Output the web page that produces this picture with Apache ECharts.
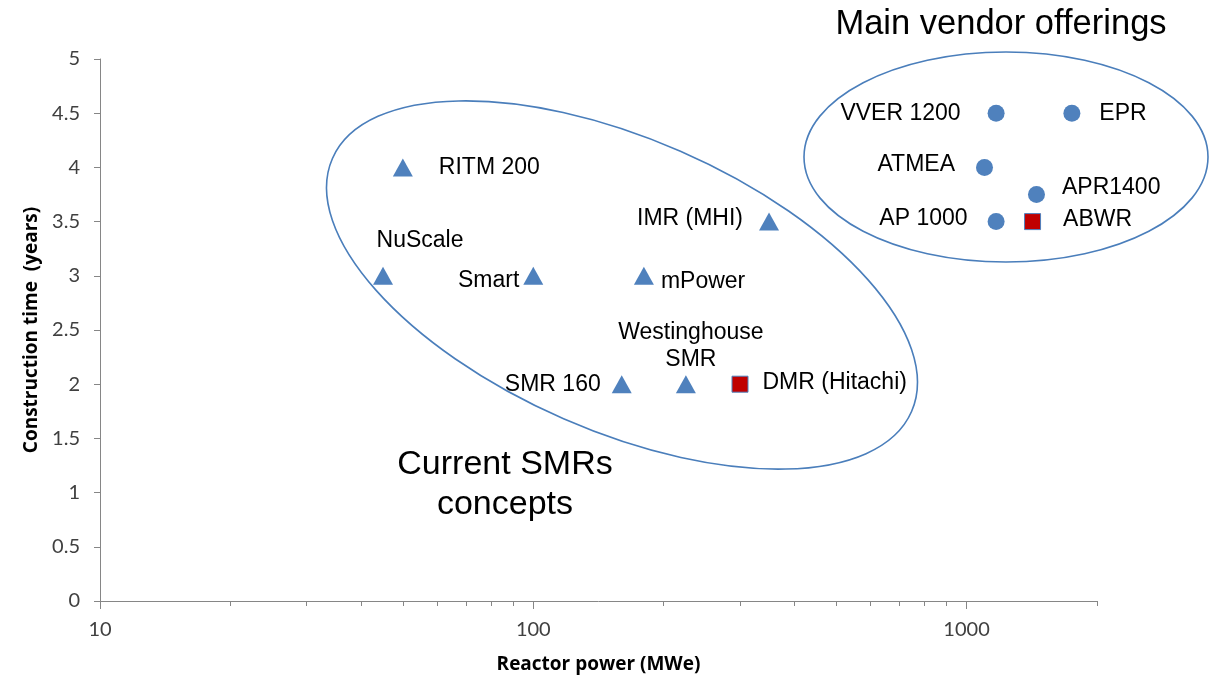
<!DOCTYPE html>
<html>
<head>
<meta charset="utf-8">
<script src="https://cdn.jsdelivr.net/npm/echarts@6/dist/echarts.min.js"></script>
<style>
  html, body { margin: 0; padding: 0; background: #fff; }
  #chart { width: 1209px; height: 681px; }
</style>
</head>
<body>
<div id="chart"></div>
<script>
// SMR concepts (triangles)
const smrNames = ['RITM 200', 'NuScale', 'Smart', 'mPower', 'IMR (MHI)', 'SMR 160', 'Westinghouse\nSMR']
const smrPower = [50, 45, 100, 180, 350, 160, 225]
const smrTime = [4, 3, 3, 3, 3.5, 2, 2]

// large PWR vendor offerings (circles)
const vendorNames = ['VVER 1200', 'EPR', 'ATMEA', 'APR1400', 'AP 1000']
const vendorPower = [1170, 1750, 1100, 1450, 1170]
const vendorTime = [4.5, 4.5, 4, 3.75, 3.5]

// BWR designs (red squares)
const bwrNames = ['DMR (Hitachi)', 'ABWR']
const bwrPower = [300, 1420]
const bwrTime = [2, 3.5]

// axis ticks
const majorTicks = [10, 100, 1000]
const minorTicks = [20, 30, 40, 50, 60, 70, 80, 90, 200, 300, 400, 500, 600, 700, 800, 900, 2000]

// label placement per point
const labelCfg = {
  'RITM 200': { position: 'right', distance: 26 },
  'NuScale': { position: 'top', distance: 13, offset: [37, 0] },
  'Smart': { position: 'left', distance: 4, offset: [0, 5] },
  'mPower': { position: 'right', distance: 7, offset: [0, 6] },
  'IMR (MHI)': { position: 'left', distance: 16, offset: [0, -3] },
  'SMR 160': { position: 'left', distance: 11 },
  'Westinghouse\nSMR': { position: 'top', distance: 2, offset: [5, 0] },
  'DMR (Hitachi)': { position: 'right', distance: 14, offset: [0, -2] },
  'VVER 1200': { position: 'left', distance: 27 },
  'EPR': { position: 'right', distance: 19 },
  'ATMEA': { position: 'left', distance: 21, offset: [0, -3] },
  'APR1400': { position: 'right', distance: 17, offset: [0, -7] },
  'AP 1000': { position: 'left', distance: 20, offset: [0, -3] },
  'ABWR': { position: 'right', distance: 22, offset: [0, -2] },
}

const labelFont = 'Liberation Sans, Arial, sans-serif'
const axisFont = 'Lato, sans-serif'
const titleFont = 'Open Sans, sans-serif'

const buildData = (names, xs, ys) => names.map((n, i) => ({
  name: n,
  value: [xs[i], ys[i]],
  label: Object.assign({}, labelCfg[n]),
}))

const chart = echarts.init(document.getElementById('chart'))

const baseLabel = {
  show: true,
  formatter: '{b}',
  color: '#000',
  fontSize: 23,
  fontFamily: labelFont,
  lineHeight: 27,
}

const option = {
  animation: false,
  grid: { left: 100, right: 112, top: 59, bottom: 80 },
  xAxis: [
    {
      type: 'log',
      logBase: 10,
      min: 10,
      max: 2000,
      position: 'bottom',
      name: 'Reactor power (MWe)',
      nameLocation: 'middle',
      nameGap: 54,
      nameTextStyle: { fontSize: 19, fontWeight: 'bold', color: '#000', fontFamily: titleFont },
      axisLine: { show: true, lineStyle: { color: '#868686', width: 1 } },
      axisTick: { show: true, length: 8, customValues: majorTicks, lineStyle: { color: '#868686' } },
      axisLabel: {
        customValues: majorTicks,
        margin: 19,
        fontSize: 20,
        color: '#404040',
        fontFamily: axisFont,
        formatter: v => String(v),
      },
      splitLine: { show: false },
    },
    {
      type: 'log',
      logBase: 10,
      min: 10,
      max: 2000,
      position: 'bottom',
      axisLine: { show: false },
      axisTick: { show: true, length: 5, customValues: minorTicks, lineStyle: { color: '#868686' } },
      axisLabel: { show: false },
      splitLine: { show: false },
    },
  ],
  yAxis: {
    type: 'value',
    min: 0,
    max: 5,
    interval: 0.5,
    name: 'Construction time  (years)',
    nameLocation: 'middle',
    nameGap: 58,
    nameTextStyle: { fontSize: 19, fontWeight: 'bold', color: '#000', fontFamily: titleFont },
    axisLine: { show: true, lineStyle: { color: '#868686', width: 1 } },
    axisTick: { show: true, length: 6, lineStyle: { color: '#868686' } },
    axisLabel: { margin: 20, fontSize: 20, color: '#404040', fontFamily: axisFont },
    splitLine: { show: false },
  },
  series: [
    {
      name: 'SMR concepts',
      type: 'scatter',
      xAxisIndex: 0,
      symbol: 'triangle',
      symbolSize: [20, 18],
      itemStyle: { color: '#4F81BD', opacity: 1 },
      label: baseLabel,
      data: buildData(smrNames, smrPower, smrTime),
    },
    {
      name: 'Vendor offerings',
      type: 'scatter',
      xAxisIndex: 0,
      symbol: 'circle',
      symbolSize: 17,
      itemStyle: { color: '#4F81BD', opacity: 1 },
      label: baseLabel,
      data: buildData(vendorNames, vendorPower, vendorTime),
    },
    {
      name: 'BWR',
      type: 'scatter',
      xAxisIndex: 0,
      symbol: 'rect',
      symbolSize: 16,
      itemStyle: { color: '#C00000', borderColor: '#4F81BD', borderWidth: 1, opacity: 1 },
      label: baseLabel,
      data: buildData(bwrNames, bwrPower, bwrTime),
    },
  ],
  graphic: [
    {
      type: 'ellipse',
      x: 622,
      y: 285,
      rotation: -23.6 * Math.PI / 180,
      shape: { cx: 0, cy: 0, rx: 316, ry: 146 },
      style: { fill: 'none', stroke: '#4A7EBB', lineWidth: 1.6 },
      z: 1,
    },
    {
      type: 'ellipse',
      shape: { cx: 1006, cy: 157, rx: 202, ry: 105 },
      style: { fill: 'none', stroke: '#4A7EBB', lineWidth: 1.6 },
      z: 1,
    },
    {
      type: 'text',
      x: 1001,
      y: 24,
      style: {
        text: 'Main vendor offerings',
        fill: '#000',
        fontSize: 34.5,
        fontFamily: labelFont,
        align: 'center',
        verticalAlign: 'middle',
      },
    },
    {
      type: 'text',
      x: 505,
      y: 485,
      style: {
        text: 'Current SMRs\nconcepts',
        fill: '#000',
        fontSize: 34,
        lineHeight: 40,
        fontFamily: labelFont,
        align: 'center',
        verticalAlign: 'middle',
      },
    },
  ],
}

chart.setOption(option)
</script>
</body>
</html>
